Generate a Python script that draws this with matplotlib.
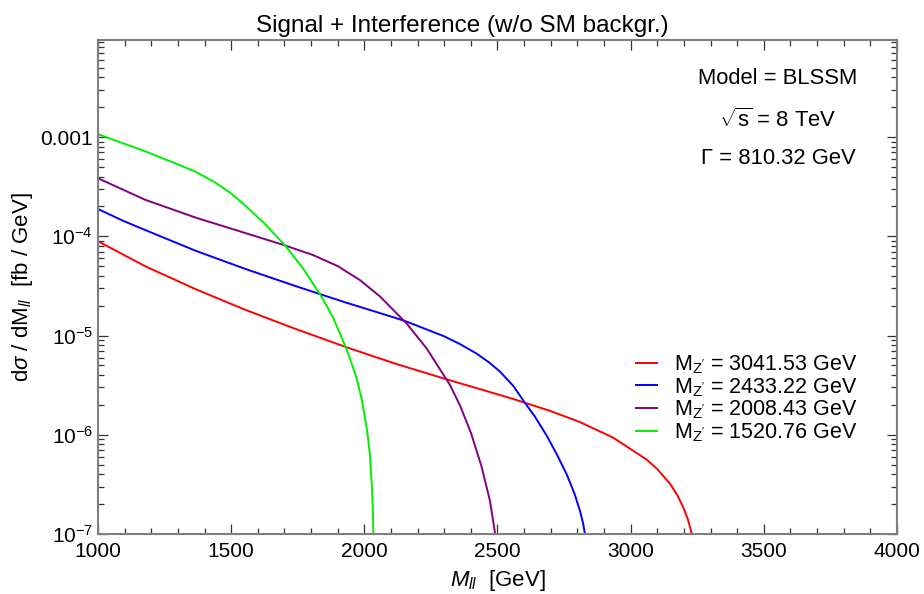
import numpy as np
import matplotlib
matplotlib.use('Agg')
import matplotlib.pyplot as plt
from matplotlib.ticker import FixedLocator, LogLocator, MultipleLocator, NullFormatter

plt.rcParams['font.family'] = ['Liberation Sans', 'DejaVu Sans']
plt.rcParams['mathtext.fontset'] = 'custom'
plt.rcParams['mathtext.rm'] = 'Liberation Sans'
plt.rcParams['mathtext.it'] = 'Liberation Sans:italic'
plt.rcParams['mathtext.sf'] = 'Liberation Sans'

# data (M_ll in GeV, dsigma/dM in fb/GeV)
m_red = [1000, 1176, 1364, 1552, 1740, 1934, 2115, 2322, 2422, 2560, 2700, 2810,
         2935, 3060, 3100, 3148, 3175, 3198, 3215, 3232, 3236]
xs_red = [8.91e-5, 5.01e-5, 2.95e-5, 1.82e-5, 1.17e-5, 7.6e-6, 5.22e-6, 3.53e-6, 2.95e-6,
          2.29e-6, 1.73e-6, 1.34e-6, 9.33e-7, 5.62e-7, 4.51e-7, 3.2e-7, 2.47e-7, 1.84e-7,
          1.4e-7, 9.46e-8, 7.9e-8]

m_blue = [1000, 1100, 1176, 1364, 1552, 1740, 1928, 2115, 2159, 2297, 2360, 2422,
          2470, 2510, 2560, 2597, 2640, 2685, 2725, 2760, 2790, 2810, 2822, 2830, 2833]
xs_blue = [1.88e-4, 1.41e-4, 1.16e-4, 7.19e-5, 4.7e-5, 3.16e-5, 2.16e-5, 1.51e-5, 1.38e-5,
           9.89e-6, 8.18e-6, 6.56e-6, 5.32e-6, 4.31e-6, 3.09e-6, 2.21e-6, 1.53e-6, 9.77e-7,
           6.17e-7, 3.98e-7, 2.51e-7, 1.7e-7, 1.26e-7, 9.33e-8, 7.9e-8]

m_purple = [1000, 1176, 1364, 1552, 1702, 1808, 1900, 1984, 2059, 2159, 2234, 2322,
            2360, 2400, 2440, 2472, 2490, 2497]
xs_purple = [3.84e-4, 2.34e-4, 1.55e-4, 1.08e-4, 8.09e-5, 6.46e-5, 5.01e-5, 3.61e-5, 2.47e-5,
             1.32e-5, 7.41e-6, 3.16e-6, 1.95e-6, 1.05e-6, 4.79e-7, 2.14e-7, 1.05e-7, 7.9e-8]

m_green = [1000, 1176, 1300, 1364, 1439, 1500, 1552, 1627, 1702, 1771, 1840, 1883,
           1934, 1970, 1990, 2010, 2021, 2029, 2033, 2035]
xs_green = [1.07e-3, 7.2e-4, 5.3e-4, 4.5e-4, 3.5e-4, 2.7e-4, 2.05e-4, 1.33e-4, 8.1e-5,
            4.7e-5, 2.45e-5, 1.51e-5, 7.2e-6, 3.8e-6, 2.3e-6, 1.12e-6, 6.3e-7, 2.8e-7,
            1.4e-7, 8e-8]

labels = [r"$\mathregular{M_{Z'}}$ = 3041.53 GeV",
          r"$\mathregular{M_{Z'}}$ = 2433.22 GeV",
          r"$\mathregular{M_{Z'}}$ = 2008.43 GeV",
          r"$\mathregular{M_{Z'}}$ = 1520.76 GeV"]

ytick_vals = [1e-7, 1e-6, 1e-5, 1e-4, 1e-3]
ytick_labels = [r'$\mathregular{10^{-7}}$', r'$\mathregular{10^{-6}}$', r'$\mathregular{10^{-5}}$',
                r'$\mathregular{10^{-4}}$', '0.001']

fig = plt.figure(figsize=(9.24, 5.94), dpi=100)
ax = fig.add_axes([98 / 924, 60 / 594, 799 / 924, 494 / 594])

ax.plot(m_red, xs_red, color='red', lw=1.4, label=labels[0])
ax.plot(m_blue, xs_blue, color='blue', lw=1.4, label=labels[1])
ax.plot(m_purple, xs_purple, color='purple', lw=1.4, label=labels[2])
ax.plot(m_green, xs_green, color='#00ee00', lw=1.4, label=labels[3])

ax.set_yscale('log')
ax.set_xlim(1000, 4000)
ax.set_ylim(1e-7, 9.5e-3)

ax.xaxis.set_major_locator(MultipleLocator(500))
ax.xaxis.set_minor_locator(MultipleLocator(100))
ax.yaxis.set_major_locator(FixedLocator(ytick_vals))
ax.set_yticklabels(ytick_labels)
ax.yaxis.set_minor_locator(LogLocator(base=10, subs=np.arange(2, 10)))
ax.yaxis.set_minor_formatter(NullFormatter())

gray = '#7f7f7f'
for s in ax.spines.values():
    s.set_color(gray)
    s.set_linewidth(1.5)
ax.tick_params(which='both', direction='in', top=True, right=True, color='#333333',
               labelsize=15, width=0.9)
ax.tick_params(which='major', length=7)
ax.tick_params(which='minor', length=4)
ax.tick_params(axis='x', pad=6)

# title is centred on the figure, not on the axes
ax.set_title('Signal + Interference (w/o SM backgr.)', fontsize=17.5, pad=6,
             x=(462 - 98) / 799)
ax.set_xlabel(r'$M_{ll}$  [GeV]', fontsize=16, labelpad=5)
ax.set_ylabel(r'd$\mathit{\sigma}$ / dM$_{ll}$  [fb / GeV]', fontsize=16, labelpad=4)

ax.text(0.851, 0.923, 'Model = BLSSM', transform=ax.transAxes, ha='center', va='center', fontsize=15.8)
ax.text(0.851, 0.838, r'$\mathregular{\sqrt{s}}$ = 8 TeV', transform=ax.transAxes, ha='center',
        va='center', fontsize=15.8)
ax.text(0.851, 0.761, 'Γ = 810.32 GeV', transform=ax.transAxes, ha='center', va='center', fontsize=15.8)

ax.legend(loc='upper left', bbox_to_anchor=(0.662, 0.383), frameon=False, fontsize=15.5,
          handlelength=1.0, handletextpad=0.8, labelspacing=0.0, borderaxespad=0)

fig.savefig('out.png', dpi=100)
